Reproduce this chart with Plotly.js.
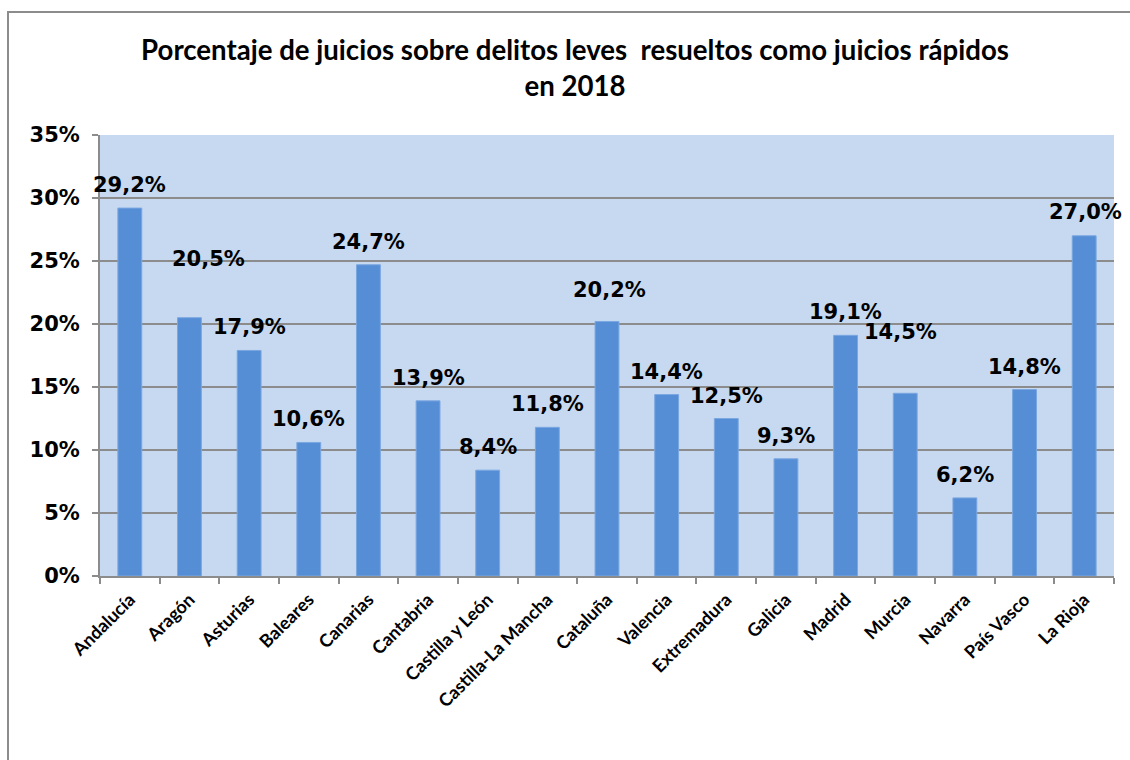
<!DOCTYPE html>
<html>
<head>
<meta charset="utf-8">
<script src="https://cdn.plot.ly/plotly-3.0.1.min.js"></script>
<style>
  html, body { margin: 0; padding: 0; background: #ffffff; }
  #wrap { position: relative; width: 1130px; height: 760px; overflow: hidden; }
  #frame { position: absolute; left: 7px; top: 11px; width: 1140px; height: 800px;
           border-left: 2px solid #8c8c8c; border-top: 2px solid #8c8c8c; box-sizing: border-box; }
  #chart { position: absolute; left: 0; top: 0; width: 1130px; height: 760px; }
</style>
</head>
<body>
<div id="wrap">
  <div id="frame"></div>
  <div id="chart"></div>
</div>
<script>
// ---- data ----
const categories = ["Andalucía", "Aragón", "Asturias", "Baleares", "Canarias", "Cantabria",
  "Castilla y León", "Castilla-La Mancha", "Cataluña", "Valencia", "Extremadura", "Galicia",
  "Madrid", "Murcia", "Navarra", "País Vasco", "La Rioja"];
const values = [29.2, 20.5, 17.9, 10.6, 24.7, 13.9, 8.4, 11.8, 20.2, 14.4, 12.5, 9.3, 19.1, 14.5, 6.2, 14.8, 27.0];
const yTickValues = [0, 5, 10, 15, 20, 25, 30, 35];
const titleText = "Porcentaje de juicios sobre delitos leves  resueltos como juicios rápidos<br>en 2018";

// label placement tweaks (style only), keyed by category
const labelDefaultShift = 23;
const labelOverrides = {
  "Aragón": { dx: 19, dy: 59 },
  "Cataluña": { dx: 2, dy: 31 },
  "Murcia": { dx: -5, dy: 61 },
  "La Rioja": { dx: 1, dy: 24 }
};

const fmt = v => v.toFixed(1).replace('.', ',') + '%';

const annotations = categories.map((c, i) => {
  const o = labelOverrides[c] || { dx: 0, dy: labelDefaultShift };
  return {
    x: c, y: values[i], xref: 'x', yref: 'y',
    text: fmt(values[i]), showarrow: false,
    xanchor: 'center', yanchor: 'middle',
    xshift: o.dx, yshift: o.dy,
    font: { family: 'DejaVu Sans', size: 21, color: '#000000', weight: 'bold' }
  };
});

const trace = {
  type: 'bar',
  x: categories,
  y: values,
  marker: { color: '#558ED5', line: { color: '#7BA7E1', width: 1 } },
  hoverinfo: 'x+y'
};

const layout = {
  width: 1130, height: 760,
  margin: { l: 100, r: 16, t: 135, b: 184 },
  paper_bgcolor: 'rgba(0,0,0,0)',
  plot_bgcolor: '#C6D9F1',
  bargap: 0.6,
  showlegend: false,
  title: {
    text: titleText,
    x: 575 / 1130, xref: 'container', xanchor: 'center',
    y: 1 - 60 / 760, yref: 'container', yanchor: 'middle',
    font: { family: 'Lato', size: 27.6, color: '#000000', weight: 'bold' }
  },
  xaxis: {
    type: 'category',
    range: [-0.5, categories.length - 0.5],
    autorange: false,
    tickangle: -45,
    tickson: 'boundaries',
    ticks: 'outside', ticklen: 6, tickwidth: 2, tickcolor: '#8c8c8c',
    ticklabelstandoff: 4,
    showline: true, linecolor: '#8c8c8c', linewidth: 2,
    showgrid: false,
    tickfont: { family: 'Lato', size: 18, color: '#000000', weight: 'bold' },
    fixedrange: true
  },
  yaxis: {
    range: [0, 35],
    autorange: false,
    tickvals: yTickValues,
    ticktext: yTickValues.map(v => v + '%'),
    ticks: 'outside', ticklen: 6, tickwidth: 2, tickcolor: '#8c8c8c',
    ticklabelstandoff: 8,
    showline: true, linecolor: '#8c8c8c', linewidth: 2,
    showgrid: true, gridcolor: '#8c8c8c', gridwidth: 2,
    zeroline: false,
    tickfont: { family: 'DejaVu Sans', size: 21, color: '#000000', weight: 'bold' },
    fixedrange: true
  },
  annotations: annotations
};

Plotly.newPlot('chart', [trace], layout, { displayModeBar: false, staticPlot: true });
</script>
</body>
</html>
